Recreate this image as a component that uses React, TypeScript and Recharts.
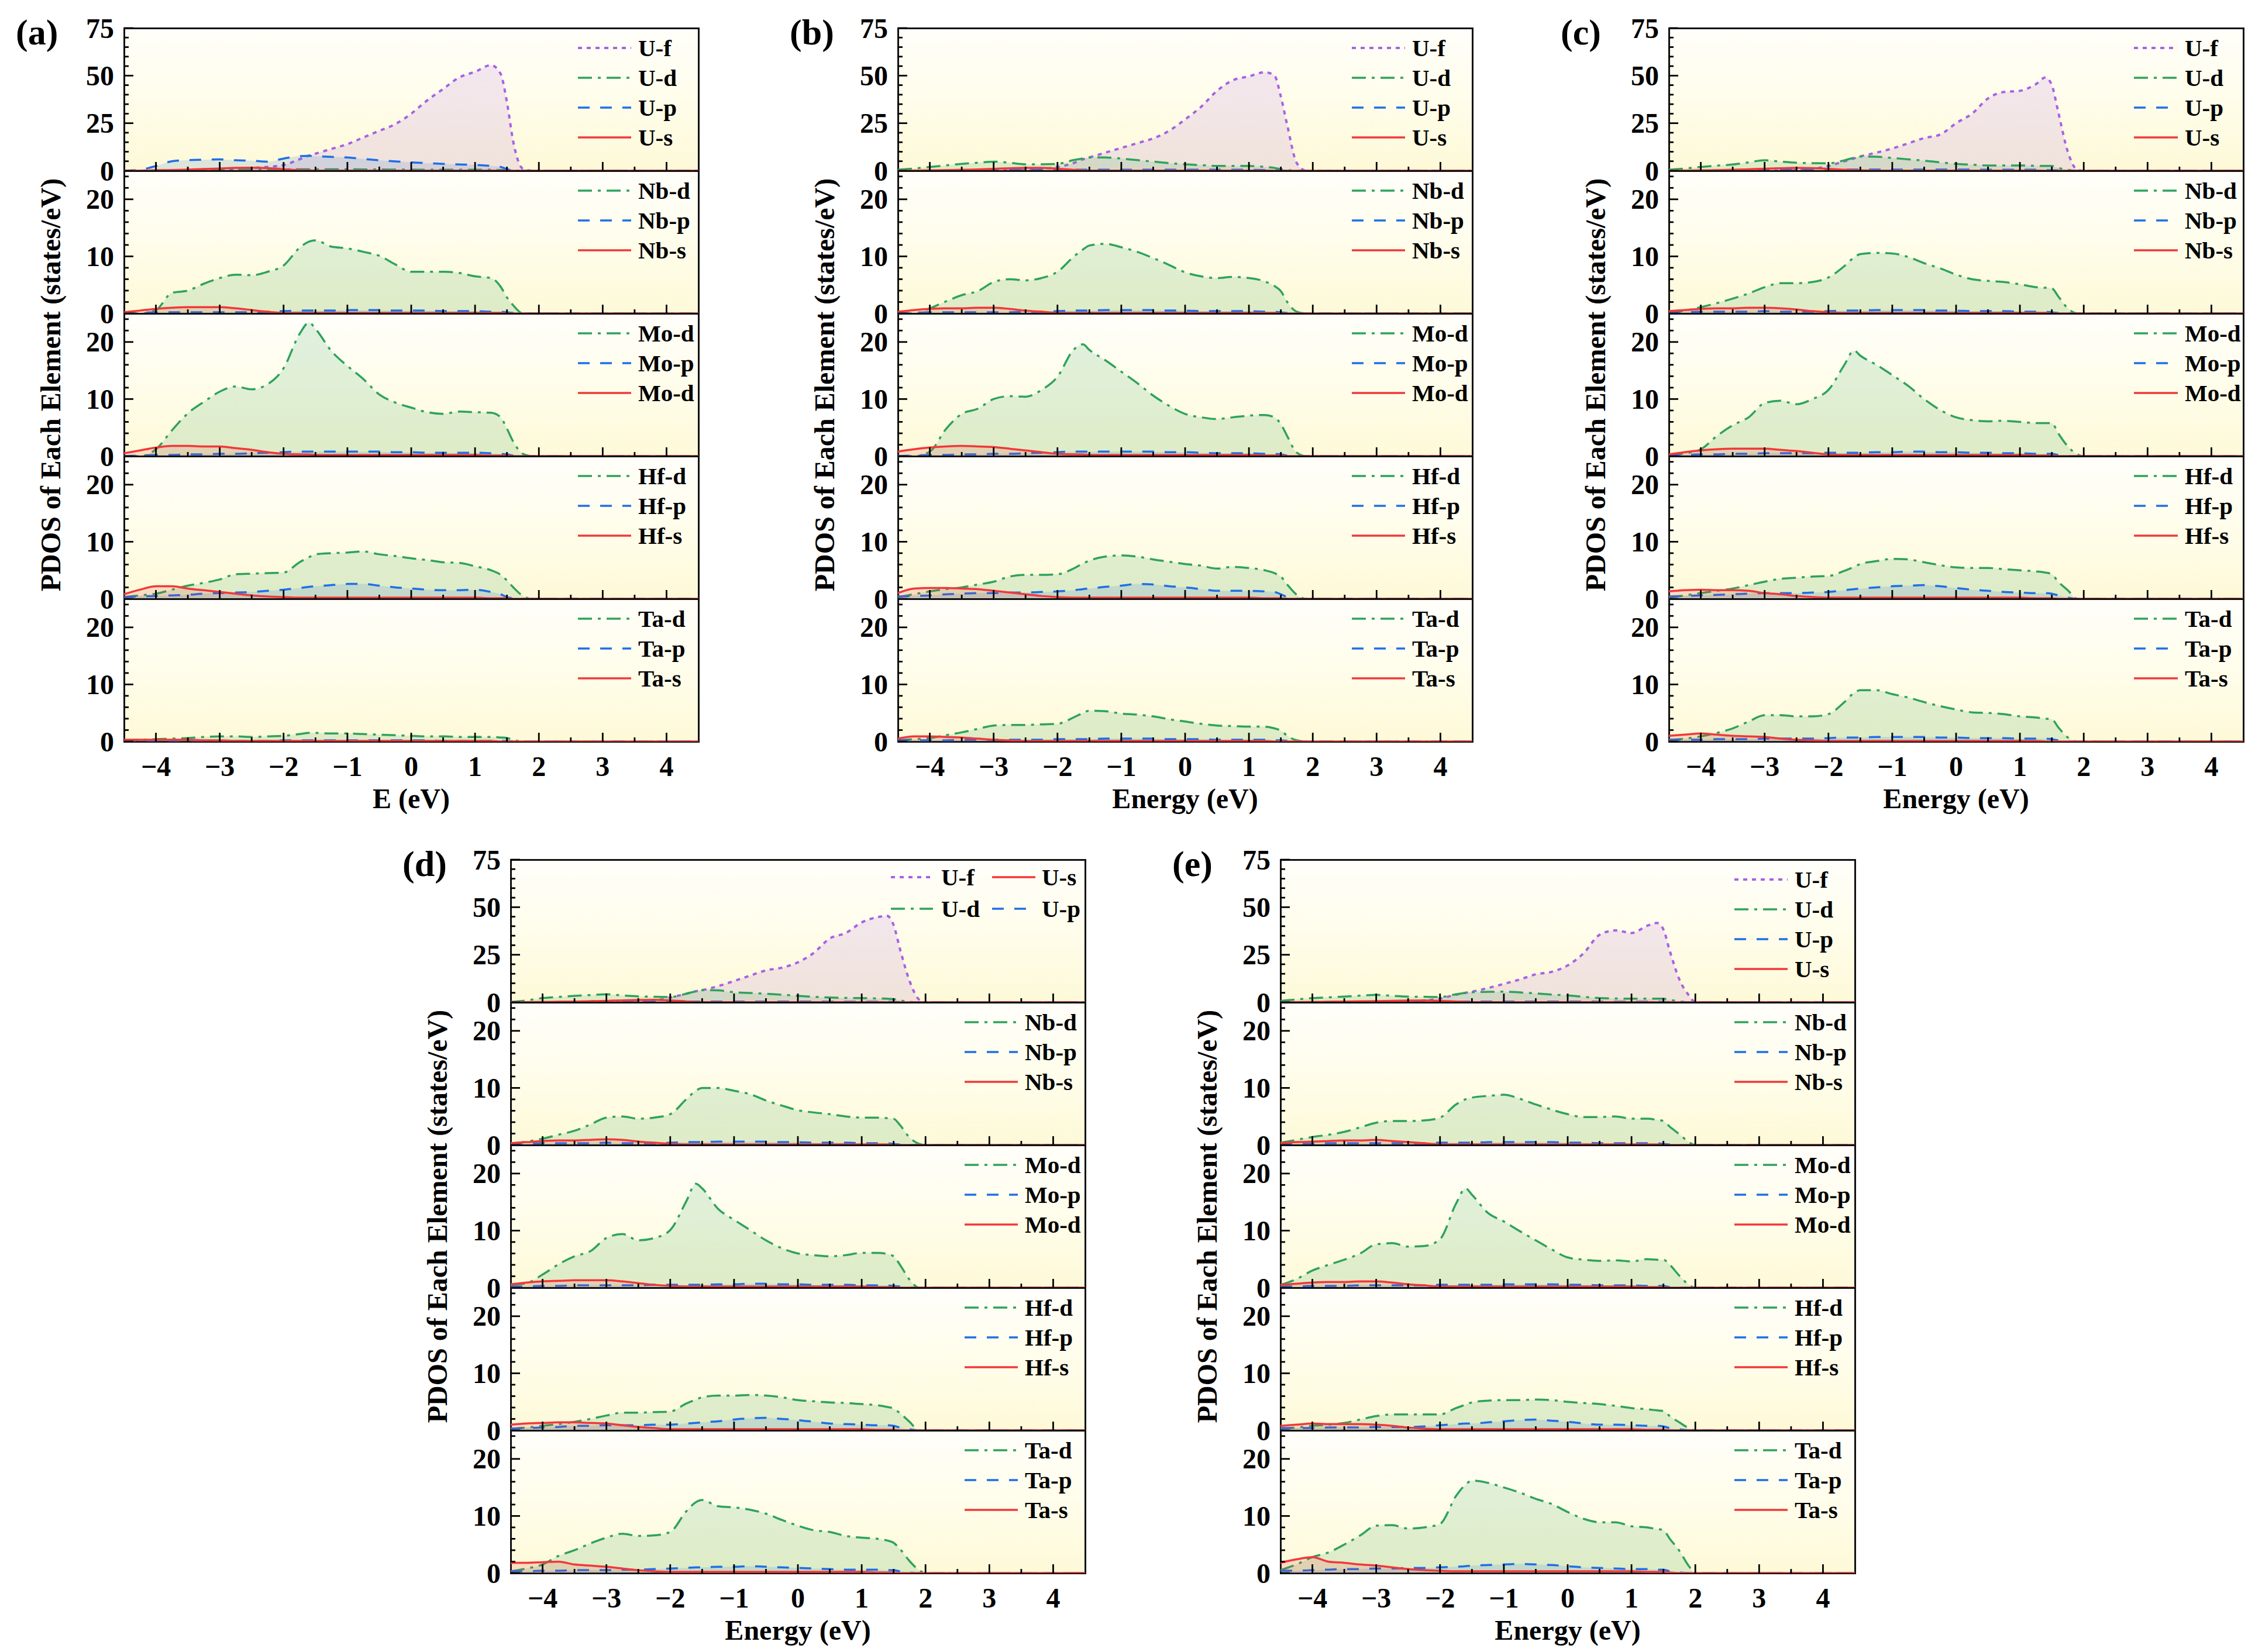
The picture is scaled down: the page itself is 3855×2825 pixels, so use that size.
import React from "react";
import { AreaChart, Area, XAxis, YAxis } from "recharts";

// energy grid shared by every curve (eV)
const energy = [-4.5, -4.25, -4, -3.75, -3.5, -3.25, -3, -2.75, -2.5, -2.25, -2, -1.75, -1.6, -1.5, -1.25, -1, -0.75, -0.5, -0.25, 0, 0.25, 0.5, 0.75, 1, 1.25, 1.4, 1.5, 1.6, 1.75, 1.9, 2, 4.5];

const xTicks = [-4, -3.5, -3, -2.5, -2, -1.5, -1, -0.5, 0, 0.5, 1, 1.5, 2, 2.5, 3, 3.5, 4];
const xMajor = [-4, -3, -2, -1, 0, 1, 2, 3, 4];
const uTicks = [0, 5, 10, 15, 20, 25, 30, 35, 40, 45, 50, 55, 60, 65, 70, 75];
const uMajor = [0, 25, 50, 75];
const elTicks = [0, 2, 4, 6, 8, 10, 12, 14, 16, 18, 20, 22, 24];
const elMajor = [0, 10, 20];

// (a)
const aUf = [0, 0, 0, 0, 0, 0, 0.5, 1, 1.5, 2, 3, 6, 8, 9, 11.5, 14, 17.5, 21, 24.5, 30, 37, 43, 49, 52, 55.5, 51, 36, 15, 1, 0, 0, 0];
const aUd = [0, 0, 0.2, 0.3, 0.4, 0.5, 0.6, 0.6, 0.6, 0.6, 0.7, 0.8, 0.8, 0.8, 0.8, 0.8, 0.7, 0.7, 0.6, 0.6, 0.5, 0.5, 0.5, 0.5, 0.5, 0.4, 0.3, 0.1, 0, 0, 0, 0];
const aUp = [0, 0.5, 2.5, 5, 5.6, 5.8, 6, 5.5, 5.3, 4.8, 6.4, 7.7, 7.8, 7.7, 7.3, 7, 6.2, 5.5, 4.9, 4.4, 4, 3.6, 3.3, 3.1, 2.5, 2, 0.9, 0, 0, 0, 0, 0];
const aUs = [0, 0.1, 0.2, 0.4, 0.6, 0.9, 1.2, 1.5, 1.6, 1.4, 0.8, 0.3, 0.2, 0.1, 0.1, 0.1, 0.1, 0.1, 0.1, 0.1, 0.1, 0.1, 0.1, 0.1, 0.1, 0.1, 0, 0, 0, 0, 0, 0];
const aNbd = [0, 0, 0.6, 3.6, 4, 5.2, 6.2, 6.8, 6.7, 7.3, 8.4, 11.5, 12.6, 12.8, 11.7, 11.4, 10.8, 10.1, 8.6, 7.3, 7.3, 7.3, 7.1, 6.5, 6.2, 4.7, 2.8, 1.4, 0, 0, 0, 0];
const aNbp = [0, 0.1, 0.2, 0.2, 0.2, 0.2, 0.2, 0.2, 0.2, 0.3, 0.4, 0.5, 0.5, 0.5, 0.5, 0.6, 0.6, 0.6, 0.5, 0.5, 0.5, 0.4, 0.4, 0.4, 0.3, 0.3, 0.2, 0.1, 0, 0, 0, 0];
const aNbs = [0.2, 0.5, 0.8, 1, 1.1, 1.1, 1.1, 0.9, 0.6, 0.3, 0.1, 0.1, 0.1, 0.1, 0.1, 0.1, 0.1, 0.1, 0.1, 0.1, 0.1, 0.1, 0.1, 0.1, 0.1, 0.1, 0, 0, 0, 0, 0, 0];
const aMod = [0, 0, 1.2, 4.5, 7.5, 9.5, 11.3, 12.2, 11.7, 12.6, 15.4, 21.4, 23.4, 22.3, 18.4, 15.8, 13.5, 10.8, 9.4, 8.5, 7.7, 7.4, 7.8, 7.7, 7.6, 6.8, 4.8, 2.5, 0.4, 0, 0, 0];
const aMop = [0, 0.1, 0.2, 0.2, 0.3, 0.3, 0.4, 0.4, 0.5, 0.6, 0.7, 0.8, 0.8, 0.8, 0.8, 0.8, 0.8, 0.8, 0.7, 0.7, 0.6, 0.6, 0.6, 0.6, 0.5, 0.4, 0.3, 0.1, 0, 0, 0, 0];
const aMos = [0.5, 1, 1.5, 1.8, 1.8, 1.7, 1.7, 1.4, 1.1, 0.7, 0.4, 0.3, 0.3, 0.2, 0.2, 0.2, 0.2, 0.2, 0.2, 0.2, 0.2, 0.2, 0.2, 0.2, 0.1, 0.1, 0.1, 0, 0, 0, 0, 0];
const aHfd = [0.3, 0.6, 0.9, 1.6, 2.3, 2.8, 3.4, 4.3, 4.4, 4.5, 4.6, 6.4, 7.3, 7.8, 8, 8.1, 8.3, 7.8, 7.5, 7.1, 6.8, 6.4, 6.3, 5.7, 5, 4.2, 3.2, 2, 0.5, 0, 0, 0];
const aHfp = [0.3, 0.4, 0.5, 0.6, 0.7, 0.9, 1, 1.1, 1.2, 1.4, 1.6, 1.9, 2.1, 2.2, 2.4, 2.6, 2.6, 2.3, 2, 1.8, 1.6, 1.5, 1.5, 1.6, 1.2, 0.8, 0.3, 0.1, 0, 0, 0, 0];
const aHfs = [0.8, 1.6, 2.2, 2.2, 1.8, 1.5, 1.2, 0.9, 0.6, 0.4, 0.3, 0.2, 0.2, 0.2, 0.2, 0.2, 0.2, 0.2, 0.2, 0.2, 0.2, 0.2, 0.2, 0.2, 0.1, 0.1, 0.1, 0, 0, 0, 0, 0];
const aTad = [0.2, 0.3, 0.4, 0.5, 0.6, 0.8, 0.9, 0.9, 0.8, 0.9, 1, 1.3, 1.5, 1.5, 1.4, 1.4, 1.3, 1.2, 1.1, 1, 0.9, 0.9, 0.8, 0.8, 0.8, 0.7, 0.6, 0.3, 0, 0, 0, 0];
const aTap = [0.1, 0.1, 0.1, 0.1, 0.1, 0.1, 0.1, 0.1, 0.1, 0.1, 0.2, 0.2, 0.2, 0.2, 0.2, 0.2, 0.2, 0.2, 0.2, 0.2, 0.2, 0.1, 0.1, 0.1, 0.1, 0.1, 0.1, 0, 0, 0, 0, 0];
const aTas = [0.3, 0.3, 0.3, 0.3, 0.3, 0.2, 0.2, 0.1, 0.1, 0.1, 0.1, 0.1, 0.1, 0.1, 0.1, 0.1, 0.1, 0.1, 0.1, 0.1, 0.1, 0.1, 0.1, 0.1, 0.1, 0, 0, 0, 0, 0, 0, 0];

// (b)
const bUf = [0, 0, 0, 0, 0, 0, 0, 0.2, 0.5, 1, 2, 4, 6, 7, 9.5, 12, 14.5, 17, 21, 27, 33.6, 42, 47.6, 49.6, 51.8, 50, 39, 24, 4, 0, 0, 0];
const bUd = [0.5, 1.2, 2, 2.8, 3.6, 4.2, 4.8, 4.2, 3.4, 3.4, 3.6, 5.6, 6.5, 7, 7, 6.4, 5.6, 4.8, 4, 3.4, 3, 2.5, 2.5, 2.5, 2, 1.5, 0.8, 0.4, 0, 0, 0, 0];
const bUp = [0, 0, 0.1, 0.2, 0.3, 0.4, 0.5, 0.5, 0.5, 0.5, 0.5, 0.5, 0.5, 0.5, 0.5, 0.5, 0.5, 0.5, 0.5, 0.5, 0.5, 0.5, 0.5, 0.5, 0.4, 0.3, 0.2, 0, 0, 0, 0, 0];
const bUs = [0, 0.1, 0.2, 0.3, 0.5, 0.7, 1, 1.3, 1.5, 1.5, 1.1, 0.5, 0.2, 0.1, 0.1, 0.1, 0.1, 0.1, 0.1, 0.1, 0.1, 0.1, 0.1, 0.1, 0.1, 0, 0, 0, 0, 0, 0, 0];
const bNbd = [0, 0, 0.9, 2.1, 3.2, 3.9, 5.5, 6, 5.8, 6.2, 7.3, 9.9, 11.2, 11.9, 12.2, 11.6, 10.8, 9.7, 8.5, 7.2, 6.5, 6.2, 6.4, 6.2, 5.6, 4.8, 3.9, 2, 0.3, 0, 0, 0];
const bNbp = [0, 0.1, 0.2, 0.2, 0.2, 0.2, 0.2, 0.2, 0.3, 0.3, 0.4, 0.5, 0.5, 0.5, 0.6, 0.6, 0.6, 0.6, 0.5, 0.5, 0.4, 0.4, 0.4, 0.4, 0.3, 0.3, 0.2, 0.1, 0, 0, 0, 0];
const bNbs = [0.3, 0.6, 0.8, 0.9, 0.9, 1, 1, 0.8, 0.5, 0.3, 0.1, 0.1, 0.1, 0.1, 0.1, 0.1, 0.1, 0.1, 0.1, 0.1, 0.1, 0.1, 0.1, 0.1, 0.1, 0.1, 0, 0, 0, 0, 0, 0];
const bMod = [0, 0, 0.8, 4.7, 7.4, 8.3, 10, 10.5, 10.4, 11.6, 13.9, 18.6, 19.6, 18.6, 16.8, 14.8, 12.8, 10.6, 8.8, 7.4, 6.8, 6.5, 6.8, 7.1, 7.2, 6.8, 5.6, 3.5, 0.6, 0, 0, 0];
const bMop = [0, 0.1, 0.2, 0.2, 0.3, 0.3, 0.4, 0.4, 0.5, 0.6, 0.7, 0.8, 0.8, 0.8, 0.8, 0.8, 0.8, 0.8, 0.7, 0.7, 0.6, 0.5, 0.5, 0.5, 0.4, 0.4, 0.3, 0.1, 0, 0, 0, 0];
const bMos = [0.8, 1.2, 1.5, 1.7, 1.8, 1.7, 1.6, 1.3, 1, 0.7, 0.4, 0.3, 0.3, 0.2, 0.2, 0.2, 0.2, 0.2, 0.2, 0.2, 0.2, 0.2, 0.2, 0.2, 0.1, 0.1, 0.1, 0, 0, 0, 0, 0];
const bHfd = [0.3, 0.8, 1.3, 1.7, 2, 2.5, 3, 3.9, 4.2, 4.2, 4.3, 5.3, 6.2, 6.7, 7.4, 7.6, 7.4, 6.9, 6.5, 6.1, 5.8, 5.3, 5.6, 5.4, 5, 4.5, 3.9, 2.5, 0.7, 0, 0, 0];
const bHfp = [0.4, 0.5, 0.6, 0.8, 0.9, 1, 1, 1.1, 1.1, 1.2, 1.3, 1.5, 1.7, 1.8, 2.1, 2.3, 2.6, 2.5, 2.2, 2, 1.7, 1.4, 1.4, 1.4, 1.3, 1.2, 0.8, 0.3, 0, 0, 0, 0];
const bHfs = [1, 1.8, 1.9, 1.9, 1.8, 1.7, 1.4, 1.1, 0.8, 0.5, 0.3, 0.2, 0.2, 0.2, 0.2, 0.2, 0.2, 0.2, 0.2, 0.2, 0.2, 0.2, 0.2, 0.2, 0.1, 0.1, 0.1, 0, 0, 0, 0, 0];
const bTad = [0.2, 0.4, 0.6, 1.1, 1.6, 2.2, 2.8, 2.9, 2.9, 3, 3.1, 4.2, 5, 5.4, 5.3, 4.9, 4.7, 4.4, 3.9, 3.5, 3.1, 2.8, 2.7, 2.6, 2.6, 2.3, 1.9, 1, 0.2, 0, 0, 0];
const bTap = [0.2, 0.2, 0.2, 0.2, 0.3, 0.3, 0.3, 0.3, 0.3, 0.3, 0.4, 0.4, 0.4, 0.4, 0.5, 0.5, 0.5, 0.5, 0.4, 0.4, 0.4, 0.3, 0.3, 0.3, 0.3, 0.2, 0.2, 0.1, 0, 0, 0, 0];
const bTas = [0.5, 0.9, 0.9, 0.8, 0.7, 0.5, 0.3, 0.2, 0.1, 0.1, 0.1, 0.1, 0.1, 0.1, 0.1, 0.1, 0.1, 0.1, 0.1, 0.1, 0.1, 0.1, 0.1, 0.1, 0.1, 0, 0, 0, 0, 0, 0, 0];

// (c)
const cUf = [0, 0, 0, 0, 0, 0, 0, 0, 0.3, 1, 2.5, 5, 6.5, 7.5, 9.5, 11.7, 14.4, 17.2, 19, 25, 30, 38, 41.4, 42, 45.5, 49, 45, 31, 10, 0.5, 0, 0];
const cUd = [0.5, 1.2, 2, 2.7, 3.3, 4.4, 5.5, 4.8, 4.2, 4, 3.9, 5.5, 6.8, 7.5, 7.4, 6.7, 6, 5.3, 4.4, 3.6, 3.2, 2.8, 2.8, 2.8, 2.6, 2.5, 2.5, 1.5, 0.5, 0, 0, 0];
const cUp = [0, 0, 0.1, 0.2, 0.3, 0.4, 0.5, 0.5, 0.5, 0.5, 0.5, 0.6, 0.6, 0.6, 0.6, 0.6, 0.6, 0.6, 0.6, 0.6, 0.6, 0.5, 0.5, 0.5, 0.5, 0.4, 0.3, 0.2, 0, 0, 0, 0];
const cUs = [0, 0.1, 0.2, 0.3, 0.5, 0.8, 1.1, 1.3, 1.5, 1.4, 1, 0.5, 0.3, 0.2, 0.1, 0.1, 0.1, 0.1, 0.1, 0.1, 0.1, 0.1, 0.1, 0.1, 0.1, 0, 0, 0, 0, 0, 0, 0];
const cNbd = [0.1, 0.5, 1.1, 1.8, 2.6, 3.5, 4.6, 5.3, 5.3, 5.5, 6.3, 8.3, 9.8, 10.4, 10.6, 10.5, 9.9, 8.8, 7.9, 6.8, 6, 5.7, 5.5, 5.1, 4.6, 4.5, 4.4, 3, 0.9, 0, 0, 0];
const cNbp = [0.1, 0.2, 0.3, 0.3, 0.3, 0.3, 0.4, 0.3, 0.3, 0.3, 0.4, 0.5, 0.5, 0.5, 0.6, 0.6, 0.6, 0.6, 0.5, 0.5, 0.4, 0.4, 0.4, 0.3, 0.3, 0.3, 0.2, 0.1, 0, 0, 0, 0];
const cNbs = [0.4, 0.6, 0.8, 0.9, 0.9, 1, 1, 0.9, 0.7, 0.4, 0.2, 0.1, 0.1, 0.1, 0.1, 0.1, 0.1, 0.1, 0.1, 0.1, 0.1, 0.1, 0.1, 0.1, 0.1, 0.1, 0, 0, 0, 0, 0, 0];
const cMod = [0.2, 0.5, 1.2, 3.5, 5.4, 6.8, 9.3, 9.7, 9.1, 10, 11.6, 16, 18.5, 17.6, 16, 14.2, 12.3, 10, 8.1, 6.8, 6.3, 6.1, 6.2, 6, 5.8, 5.8, 5.8, 4, 1.7, 0.3, 0, 0];
const cMop = [0.2, 0.2, 0.3, 0.3, 0.4, 0.4, 0.5, 0.5, 0.5, 0.5, 0.6, 0.6, 0.6, 0.6, 0.7, 0.7, 0.8, 0.8, 0.7, 0.7, 0.6, 0.6, 0.5, 0.5, 0.4, 0.4, 0.4, 0.2, 0, 0, 0, 0];
const cMos = [0.3, 0.7, 1, 1.2, 1.3, 1.3, 1.3, 1.1, 0.9, 0.6, 0.3, 0.2, 0.2, 0.2, 0.2, 0.2, 0.2, 0.2, 0.2, 0.2, 0.2, 0.2, 0.2, 0.2, 0.1, 0.1, 0.1, 0, 0, 0, 0, 0];
const cHfd = [0.2, 0.6, 1, 1.4, 1.8, 2.4, 3, 3.5, 3.7, 3.9, 4, 4.9, 5.6, 6.1, 6.6, 7, 6.9, 6.4, 5.9, 5.5, 5.4, 5.4, 5.2, 5, 4.8, 4.6, 4.3, 3, 1.5, 0, 0, 0];
const cHfp = [0.4, 0.5, 0.6, 0.7, 0.8, 0.9, 1, 1, 1, 1.1, 1.2, 1.5, 1.7, 1.8, 2, 2.2, 2.3, 2.4, 2.2, 1.9, 1.6, 1.4, 1.2, 1.1, 1, 1, 0.9, 0.6, 0.2, 0, 0, 0];
const cHfs = [1.3, 1.5, 1.6, 1.5, 1.5, 1.4, 1, 0.8, 0.5, 0.3, 0.2, 0.2, 0.2, 0.2, 0.2, 0.2, 0.2, 0.2, 0.2, 0.2, 0.2, 0.2, 0.2, 0.2, 0.1, 0.1, 0.1, 0, 0, 0, 0, 0];
const cTad = [0.3, 0.5, 0.9, 1.5, 2.3, 3.5, 4.6, 4.6, 4.4, 4.4, 4.8, 6.9, 8.5, 9, 9, 8.3, 7.7, 6.9, 6.2, 5.6, 5.1, 5, 4.8, 4.4, 4.2, 4, 3.9, 2.5, 0.7, 0, 0, 0];
const cTap = [0.3, 0.3, 0.3, 0.4, 0.4, 0.4, 0.5, 0.5, 0.5, 0.5, 0.6, 0.7, 0.7, 0.7, 0.8, 0.8, 0.8, 0.8, 0.7, 0.7, 0.6, 0.6, 0.6, 0.5, 0.5, 0.5, 0.4, 0.2, 0, 0, 0, 0];
const cTas = [1, 1.2, 1.4, 1.2, 1, 0.9, 0.8, 0.5, 0.3, 0.2, 0.1, 0.1, 0.1, 0.1, 0.1, 0.1, 0.1, 0.1, 0.1, 0.1, 0.1, 0.1, 0.1, 0.1, 0.1, 0, 0, 0, 0, 0, 0, 0];

// (d)
const dUf = [0, 0, 0, 0, 0, 0, 0, 0, 0.3, 1, 2.5, 4.5, 5.8, 6.4, 8.5, 11.2, 14, 16.8, 18.2, 21, 26, 33.6, 36.4, 42, 44.8, 45.4, 40.6, 28, 11.2, 1.4, 0, 0];
const dUd = [0.2, 1, 2.2, 2.8, 3.4, 3.8, 4.2, 3.6, 3.1, 2.9, 2.8, 4.5, 5.8, 6.4, 6.3, 5.3, 4.9, 4.5, 4, 3.4, 2.9, 2.5, 2.3, 2.2, 2, 1.9, 1.7, 1, 0.3, 0, 0, 0];
const dUp = [0, 0, 0.1, 0.2, 0.2, 0.3, 0.3, 0.3, 0.3, 0.3, 0.3, 0.4, 0.4, 0.4, 0.4, 0.4, 0.4, 0.4, 0.4, 0.4, 0.4, 0.3, 0.3, 0.3, 0.3, 0.3, 0.2, 0.1, 0, 0, 0, 0];
const dUs = [0, 0.1, 0.2, 0.3, 0.4, 0.6, 0.8, 1, 1.2, 1.3, 1, 0.5, 0.2, 0.1, 0.1, 0.1, 0.1, 0.1, 0.1, 0.1, 0.1, 0.1, 0.1, 0.1, 0.1, 0, 0, 0, 0, 0, 0, 0];
const dNbd = [0.3, 0.6, 1.1, 1.8, 2.5, 3.6, 4.8, 5, 4.6, 4.8, 5.4, 8, 9.5, 10, 10, 9.5, 8.9, 7.8, 6.9, 6.1, 5.7, 5.4, 5, 4.8, 4.8, 4.7, 4.6, 3.5, 1.3, 0.2, 0, 0];
const dNbp = [0.1, 0.2, 0.3, 0.3, 0.3, 0.3, 0.4, 0.3, 0.3, 0.3, 0.4, 0.5, 0.5, 0.5, 0.6, 0.6, 0.6, 0.6, 0.5, 0.5, 0.4, 0.4, 0.4, 0.3, 0.3, 0.3, 0.2, 0.1, 0, 0, 0, 0];
const dNbs = [0.3, 0.5, 0.7, 0.8, 0.8, 0.9, 1, 0.9, 0.6, 0.4, 0.2, 0.1, 0.1, 0.1, 0.1, 0.1, 0.1, 0.1, 0.1, 0.1, 0.1, 0.1, 0.1, 0.1, 0.1, 0.1, 0, 0, 0, 0, 0, 0];
const dMod = [0.5, 0.8, 2.3, 4.1, 5.5, 6.4, 8.7, 9.4, 8.3, 8.7, 10.1, 15.1, 18.2, 17.4, 13.8, 11.9, 10.1, 8.3, 6.9, 6, 5.7, 5.5, 5.7, 6.1, 6.1, 5.9, 5.5, 4, 1.4, 0, 0, 0];
const dMop = [0.2, 0.2, 0.3, 0.3, 0.4, 0.4, 0.4, 0.4, 0.4, 0.5, 0.5, 0.5, 0.5, 0.5, 0.6, 0.6, 0.7, 0.7, 0.6, 0.6, 0.5, 0.5, 0.5, 0.4, 0.4, 0.4, 0.3, 0.2, 0, 0, 0, 0];
const dMos = [0.6, 0.9, 1.1, 1.2, 1.3, 1.3, 1.3, 1.1, 0.8, 0.5, 0.3, 0.2, 0.2, 0.2, 0.2, 0.2, 0.2, 0.2, 0.2, 0.2, 0.2, 0.2, 0.2, 0.2, 0.1, 0.1, 0.1, 0, 0, 0, 0, 0];
const dHfd = [0.3, 0.5, 0.8, 1.1, 1.5, 2, 2.6, 3.1, 3.1, 3.2, 3.3, 4.7, 5.4, 5.8, 6.1, 6.1, 6.2, 6.1, 5.8, 5.3, 5.1, 4.9, 4.8, 4.6, 4.4, 4.1, 3.8, 3, 1.5, 0, 0, 0];
const dHfp = [0.3, 0.4, 0.5, 0.6, 0.8, 0.8, 0.9, 0.9, 0.9, 1, 1, 1.2, 1.3, 1.4, 1.6, 1.9, 2.1, 2.2, 2, 1.8, 1.5, 1.2, 1.1, 1, 0.9, 0.9, 0.8, 0.5, 0.2, 0, 0, 0];
const dHfs = [1, 1.2, 1.3, 1.4, 1.4, 1.3, 1.2, 0.9, 0.6, 0.4, 0.2, 0.2, 0.2, 0.2, 0.2, 0.2, 0.2, 0.2, 0.2, 0.2, 0.2, 0.2, 0.2, 0.2, 0.1, 0.1, 0.1, 0, 0, 0, 0, 0];
const dTad = [0.3, 0.8, 1.5, 3, 4, 5.2, 6.2, 6.9, 6.5, 6.6, 7.2, 10.8, 12.4, 12.8, 11.7, 11.5, 11.1, 10.4, 9.3, 8.3, 7.5, 7.2, 6.5, 6.2, 6, 5.7, 5.3, 4.2, 2.1, 0.5, 0, 0];
const dTap = [0.3, 0.3, 0.4, 0.4, 0.5, 0.5, 0.5, 0.6, 0.6, 0.7, 0.8, 0.9, 1, 1, 1.1, 1.1, 1.2, 1.1, 1, 0.9, 0.8, 0.7, 0.6, 0.6, 0.6, 0.5, 0.5, 0.3, 0.1, 0, 0, 0];
const dTas = [1.8, 1.8, 1.9, 2, 1.5, 1.3, 1.1, 0.8, 0.5, 0.3, 0.2, 0.2, 0.2, 0.2, 0.2, 0.2, 0.2, 0.2, 0.2, 0.2, 0.2, 0.2, 0.2, 0.2, 0.1, 0.1, 0.1, 0, 0, 0, 0, 0];

// (e)
const eUf = [0, 0, 0, 0, 0, 0, 0, 0, 0.5, 1, 2, 4, 5, 5.6, 7.5, 9.7, 12, 14.7, 16, 19.4, 25.8, 35.5, 37.8, 36.4, 40.3, 41.7, 38.3, 27, 12, 3.6, 0, 0];
const eUd = [0.8, 1.5, 2.2, 2.6, 3, 3.5, 3.9, 3.4, 3, 2.9, 2.8, 4.2, 5, 5.3, 5.5, 5.6, 5.2, 4.7, 4.1, 3.6, 2.9, 2.2, 2, 1.9, 1.9, 1.9, 1.9, 1.3, 0.5, 0, 0, 0];
const eUp = [0, 0, 0.1, 0.2, 0.2, 0.3, 0.3, 0.3, 0.3, 0.3, 0.3, 0.4, 0.4, 0.4, 0.4, 0.4, 0.4, 0.4, 0.4, 0.4, 0.4, 0.3, 0.3, 0.3, 0.3, 0.3, 0.2, 0.1, 0, 0, 0, 0];
const eUs = [0, 0.1, 0.2, 0.3, 0.4, 0.5, 0.6, 0.8, 0.9, 1, 0.8, 0.4, 0.2, 0.1, 0.1, 0.1, 0.1, 0.1, 0.1, 0.1, 0.1, 0.1, 0.1, 0.1, 0.1, 0, 0, 0, 0, 0, 0, 0];
const eNbd = [0.4, 0.9, 1.4, 1.8, 2.3, 3.1, 3.9, 4.2, 4.2, 4.3, 4.8, 7.1, 8, 8.3, 8.6, 8.8, 8.1, 7.1, 6.2, 5.4, 4.9, 4.9, 5, 4.6, 4.6, 4.4, 4.2, 3.2, 1.9, 0.5, 0, 0];
const eNbp = [0.1, 0.2, 0.2, 0.3, 0.3, 0.3, 0.3, 0.3, 0.3, 0.3, 0.4, 0.4, 0.4, 0.4, 0.5, 0.5, 0.5, 0.5, 0.5, 0.4, 0.4, 0.3, 0.3, 0.3, 0.3, 0.3, 0.2, 0.1, 0, 0, 0, 0];
const eNbs = [0.3, 0.5, 0.6, 0.7, 0.8, 0.8, 0.9, 0.7, 0.5, 0.3, 0.1, 0.1, 0.1, 0.1, 0.1, 0.1, 0.1, 0.1, 0.1, 0.1, 0.1, 0.1, 0.1, 0.1, 0.1, 0.1, 0, 0, 0, 0, 0, 0];
const eMod = [0.5, 1.5, 3, 4, 4.9, 6, 7.6, 7.8, 7.2, 7.3, 8.5, 14.7, 17.4, 16.3, 13.1, 11.6, 9.9, 8.3, 6.7, 5.3, 4.9, 4.7, 4.8, 4.6, 5, 4.9, 4.9, 4, 2.1, 0.5, 0, 0];
const eMop = [0.2, 0.2, 0.3, 0.3, 0.3, 0.4, 0.4, 0.4, 0.4, 0.4, 0.5, 0.5, 0.5, 0.5, 0.5, 0.6, 0.6, 0.6, 0.6, 0.5, 0.5, 0.4, 0.4, 0.4, 0.3, 0.3, 0.3, 0.1, 0, 0, 0, 0];
const eMos = [0.5, 0.7, 0.9, 1, 1, 1.1, 1.1, 0.9, 0.6, 0.4, 0.2, 0.2, 0.2, 0.2, 0.2, 0.2, 0.2, 0.2, 0.2, 0.2, 0.2, 0.2, 0.2, 0.2, 0.1, 0.1, 0.1, 0, 0, 0, 0, 0];
const eHfd = [0.3, 0.5, 0.8, 1, 1.3, 1.9, 2.5, 2.8, 2.8, 2.8, 2.8, 3.9, 4.5, 4.9, 5.2, 5.3, 5.3, 5.4, 5.3, 5, 4.8, 4.6, 4.3, 3.9, 3.7, 3.5, 3.4, 2.5, 1.4, 0.4, 0, 0];
const eHfp = [0.4, 0.4, 0.4, 0.5, 0.5, 0.5, 0.6, 0.6, 0.6, 0.7, 0.9, 1.1, 1.2, 1.2, 1.4, 1.6, 1.8, 1.9, 1.7, 1.5, 1.2, 1, 1, 0.9, 0.8, 0.8, 0.7, 0.4, 0.2, 0, 0, 0];
const eHfs = [0.8, 1, 1.2, 1.1, 1.1, 1.1, 1, 0.8, 0.5, 0.3, 0.2, 0.2, 0.2, 0.2, 0.2, 0.2, 0.2, 0.2, 0.2, 0.2, 0.2, 0.2, 0.2, 0.2, 0.1, 0.1, 0.1, 0, 0, 0, 0, 0];
const eTad = [0.5, 1.5, 2.8, 3.6, 5, 6.6, 8.3, 8.4, 7.8, 8, 8.6, 13.5, 15.5, 16.2, 15.8, 15, 14.1, 13, 12.1, 10.7, 9.5, 8.9, 8.9, 8.2, 8, 7.7, 7.5, 6, 3.9, 1.2, 0, 0];
const eTap = [0.4, 0.4, 0.5, 0.6, 0.7, 0.7, 0.8, 0.8, 0.9, 0.9, 1, 1.1, 1.2, 1.3, 1.4, 1.5, 1.6, 1.5, 1.4, 1.2, 1, 0.9, 0.8, 0.7, 0.7, 0.6, 0.6, 0.3, 0.1, 0, 0, 0];
const eTas = [1.8, 2.4, 2.8, 2, 1.8, 1.5, 1.3, 1, 0.7, 0.5, 0.4, 0.3, 0.3, 0.3, 0.3, 0.3, 0.3, 0.3, 0.3, 0.3, 0.3, 0.3, 0.3, 0.3, 0.2, 0.2, 0.2, 0.1, 0, 0, 0, 0];

type Orb = "f" | "d" | "p" | "s";
type Series = [Orb, string, number[]];

const STYLE: Record<Orb, { color: string; dash?: string; width: number }> = {
  f: { color: "#a862e4", dash: "7 8", width: 4 },
  d: { color: "#2ea35c", dash: "24 10 5 10", width: 3.5 },
  p: { color: "#1f6fe6", dash: "20 18", width: 3.5 },
  s: { color: "#f2383a", width: 3.5 },
};

const FONT = "'Liberation Serif', 'Times New Roman', serif";
const PW = 982; // plot width
const SH = 244; // one sub-panel height
const AXW = 100;
const PAD = 30;
const XH_LAST = 100;

const panels = [
  {
    tag: "(a)", left: 212, top: 48, xTitle: "E (eV)", leg: [776, 867, 879], grid: false,
    rows: [
      [["f", "U-f", aUf], ["d", "U-d", aUd], ["p", "U-p", aUp], ["s", "U-s", aUs]],
      [["d", "Nb-d", aNbd], ["p", "Nb-p", aNbp], ["s", "Nb-s", aNbs]],
      [["d", "Mo-d", aMod], ["p", "Mo-p", aMop], ["s", "Mo-d", aMos]],
      [["d", "Hf-d", aHfd], ["p", "Hf-p", aHfp], ["s", "Hf-s", aHfs]],
      [["d", "Ta-d", aTad], ["p", "Ta-p", aTap], ["s", "Ta-s", aTas]],
    ] as Series[][],
  },
  {
    tag: "(b)", left: 1535, top: 48, xTitle: "Energy (eV)", leg: [776, 867, 879], grid: false,
    rows: [
      [["f", "U-f", bUf], ["d", "U-d", bUd], ["p", "U-p", bUp], ["s", "U-s", bUs]],
      [["d", "Nb-d", bNbd], ["p", "Nb-p", bNbp], ["s", "Nb-s", bNbs]],
      [["d", "Mo-d", bMod], ["p", "Mo-p", bMop], ["s", "Mo-d", bMos]],
      [["d", "Hf-d", bHfd], ["p", "Hf-p", bHfp], ["s", "Hf-s", bHfs]],
      [["d", "Ta-d", bTad], ["p", "Ta-p", bTap], ["s", "Ta-s", bTas]],
    ] as Series[][],
  },
  {
    tag: "(c)", left: 2853, top: 48, xTitle: "Energy (eV)", leg: [795, 870, 882], grid: false,
    rows: [
      [["f", "U-f", cUf], ["d", "U-d", cUd], ["p", "U-p", cUp], ["s", "U-s", cUs]],
      [["d", "Nb-d", cNbd], ["p", "Nb-p", cNbp], ["s", "Nb-s", cNbs]],
      [["d", "Mo-d", cMod], ["p", "Mo-p", cMop], ["s", "Mo-d", cMos]],
      [["d", "Hf-d", cHfd], ["p", "Hf-p", cHfp], ["s", "Hf-s", cHfs]],
      [["d", "Ta-d", cTad], ["p", "Ta-p", cTap], ["s", "Ta-s", cTas]],
    ] as Series[][],
  },
  {
    tag: "(d)", left: 873, top: 1470, xTitle: "Energy (eV)", leg: [776, 867, 879], grid: true,
    rows: [
      [["f", "U-f", dUf], ["d", "U-d", dUd], ["p", "U-p", dUp], ["s", "U-s", dUs]],
      [["d", "Nb-d", dNbd], ["p", "Nb-p", dNbp], ["s", "Nb-s", dNbs]],
      [["d", "Mo-d", dMod], ["p", "Mo-p", dMop], ["s", "Mo-d", dMos]],
      [["d", "Hf-d", dHfd], ["p", "Hf-p", dHfp], ["s", "Hf-s", dHfs]],
      [["d", "Ta-d", dTad], ["p", "Ta-p", dTap], ["s", "Ta-s", dTas]],
    ] as Series[][],
  },
  {
    tag: "(e)", left: 2189, top: 1470, xTitle: "Energy (eV)", leg: [776, 867, 879], grid: false,
    rows: [
      [["f", "U-f", eUf], ["d", "U-d", eUd], ["p", "U-p", eUp], ["s", "U-s", eUs]],
      [["d", "Nb-d", eNbd], ["p", "Nb-p", eNbp], ["s", "Nb-s", eNbs]],
      [["d", "Mo-d", eMod], ["p", "Mo-p", eMop], ["s", "Mo-d", eMos]],
      [["d", "Hf-d", eHfd], ["p", "Hf-p", eHfp], ["s", "Hf-s", eHfs]],
      [["d", "Ta-d", eTad], ["p", "Ta-p", eTap], ["s", "Ta-s", eTas]],
    ] as Series[][],
  },
];

const fmtX = (v: number) => (v < 0 ? "\u2212" + Math.abs(v) : String(v));

function SubChart({ series, last }: { series: Series[]; last: boolean }) {
  const isU = series.length === 4;
  const yMax = isU ? 75 : 25;
  const majors = isU ? uMajor : elMajor;
  const xh = last ? XH_LAST : 2;
  const rows = energy.map((e, i) => {
    const r: Record<string, number> = { e };
    series.forEach((s, k) => (r["v" + k] = s[2][i]));
    return r;
  });

  const xTick = (p: any) => {
    const { x, y, payload } = p;
    const major = xMajor.includes(payload.value);
    return (
      <g>
        <line x1={x} x2={x} y1={y} y2={y - (major ? 15 : 7)} stroke="#000" strokeWidth={2.8} />
        {last && major && (
          <text x={x} y={y + 42} textAnchor="middle" dominantBaseline="central" fontFamily={FONT} fontWeight="bold" fontSize={48} fill="#000">
            {fmtX(payload.value)}
          </text>
        )}
      </g>
    );
  };

  const yTick = (p: any) => {
    const { x, y, payload } = p;
    const major = majors.includes(payload.value);
    return (
      <g>
        <line x1={x} x2={x + (major ? 16 : 8)} y1={y} y2={y} stroke="#000" strokeWidth={2.8} />
        {major && (
          <text x={x - 17} y={y} textAnchor="end" dominantBaseline="central" fontFamily={FONT} fontWeight="bold" fontSize={48} fill="#000">
            {payload.value}
          </text>
        )}
      </g>
    );
  };

  return (
    <AreaChart width={AXW + PW} height={PAD + SH + xh + PAD} data={rows} margin={{ top: PAD, right: 0, bottom: PAD, left: 0 }}>
      {series.map((s, k) => {
        const st = STYLE[s[0]];
        return (
          <Area
            key={k}
            dataKey={"v" + k}
            type="monotone"
            stroke={st.color}
            strokeWidth={st.width}
            strokeDasharray={st.dash}
            fill={st.color}
            fillOpacity={0.15}
            dot={false}
            activeDot={false}
            isAnimationActive={false}
          />
        );
      })}
      <XAxis dataKey="e" type="number" domain={[-4.5, 4.5]} ticks={xTicks} interval={0} height={xh} tickSize={0} tickMargin={0} axisLine={false} tickLine={false} tick={xTick} allowDataOverflow />
      <YAxis type="number" domain={[0, yMax]} ticks={isU ? uTicks : elTicks} interval={0} width={AXW} tickSize={0} tickMargin={0} axisLine={false} tickLine={false} tick={yTick} allowDataOverflow />
    </AreaChart>
  );
}

function Legend({ series, x0, y0, leg, grid }: { series: Series[]; x0: number; y0: number; leg: number[]; grid: boolean }) {
  const items = series.map((s, i) => {
    let lx1 = x0 + leg[0], lx2 = x0 + leg[1], tx = x0 + leg[2], ly = y0 + 34 + i * 51;
    if (grid) {
      // two-column legend: U-f  U-s / U-d  U-p
      const pos: Record<Orb, [number, number]> = { f: [0, 0], s: [1, 0], d: [0, 1], p: [1, 1] };
      const [c, r] = pos[s[0]];
      lx1 = x0 + (c ? 823 : 650);
      lx2 = x0 + (c ? 897 : 722);
      tx = x0 + (c ? 908 : 736);
      ly = y0 + 30 + r * 54;
    }
    const st = STYLE[s[0]];
    return (
      <g key={i}>
        <line x1={lx1} x2={lx2} y1={ly} y2={ly} stroke={st.color} strokeWidth={st.width} strokeDasharray={st.dash} />
        <text x={tx} y={ly} dominantBaseline="central" fontFamily={FONT} fontWeight="bold" fontSize={41} fill="#000">
          {s[1]}
        </text>
      </g>
    );
  });
  return <>{items}</>;
}

export default function App() {
  return (
    <div style={{ position: "relative", width: 3855, height: 2825, background: "#fff", overflow: "hidden" }}>
      <style>{"body{margin:0;background:#fff}"}</style>
      {panels.map((pn, pi) =>
        pn.rows.map((series, ri) => {
          const subTop = pn.top + ri * SH;
          return (
            <React.Fragment key={pi + "-" + ri}>
              <div
                style={{
                  position: "absolute", left: pn.left, top: subTop, width: PW, height: SH,
                  background: "linear-gradient(to bottom, #fffefa 0%, #fffde9 55%, #fdf9d8 100%)",
                }}
              />
              <div
                style={{
                  position: "absolute", left: pn.left - 1.5, top: subTop - 1.5, width: PW + 3, height: SH + 3,
                  border: "3.5px solid #111", boxSizing: "border-box",
                }}
              />
              <div style={{ position: "absolute", left: pn.left - AXW, top: subTop - PAD }}>
                <SubChart series={series} last={ri === pn.rows.length - 1} />
              </div>
            </React.Fragment>
          );
        })
      )}
      <svg width={3855} height={2825} style={{ position: "absolute", left: 0, top: 0, pointerEvents: "none" }}>
        {panels.map((pn, pi) => (
          <g key={pi}>
            <text x={pn.left - 185} y={pn.top + 28} fontFamily={FONT} fontWeight="bold" fontSize={62} fill="#000">
              {pn.tag}
            </text>
            <text
              transform={`translate(${pn.left - 126}, ${pn.top + (5 * SH) / 2}) rotate(-90)`}
              textAnchor="middle" dominantBaseline="central" fontFamily={FONT} fontWeight="bold" fontSize={48} fill="#000"
            >
              PDOS of Each Element (states/eV)
            </text>
            <text x={pn.left + PW / 2} y={pn.top + 5 * SH + 97} textAnchor="middle" dominantBaseline="central" fontFamily={FONT} fontWeight="bold" fontSize={48} fill="#000">
              {pn.xTitle}
            </text>
            {pn.rows.map((series, ri) => (
              <Legend key={ri} series={series} x0={pn.left} y0={pn.top + ri * SH} leg={pn.leg} grid={pn.grid && ri === 0} />
            ))}
          </g>
        ))}
      </svg>
    </div>
  );
}
